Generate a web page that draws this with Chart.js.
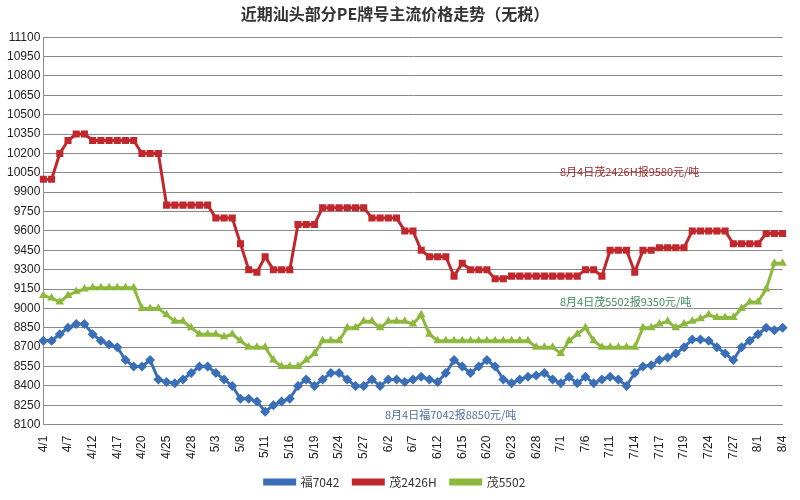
<!DOCTYPE html>
<html>
<head>
<meta charset="utf-8">
<script src="https://cdn.jsdelivr.net/npm/chart.js@4"></script>
<style>
  body { margin: 0; background: #fff; }
  #wrap { width: 800px; height: 500px; }
</style>
</head>
<body>
<div id="wrap"><canvas id="c" width="800" height="500"></canvas></div>
<script>
// tick labels shown every third point
const tickLabels = ['4/1','4/7','4/12','4/17','4/20','4/25','4/28','5/3','5/8','5/11','5/16','5/19','5/24','5/27','6/2','6/7','6/12','6/15','6/20','6/23','6/28','7/1','7/6','7/11','7/14','7/17','7/19','7/24','7/27','8/1','8/4'];

const fu7042 = [8750,8750,8800,8850,8880,8880,8800,8750,8720,8700,8600,8550,8550,8600,8450,8430,8420,8450,8500,8550,
  8550,8500,8450,8400,8300,8300,8280,8200,8250,8280,8300,8400,8450,8400,8450,8500,8500,8450,8400,8400,
  8450,8400,8450,8450,8430,8450,8470,8450,8430,8500,8600,8550,8500,8550,8600,8550,8450,8420,8450,8470,
  8480,8500,8450,8420,8470,8420,8470,8420,8450,8470,8450,8400,8500,8550,8560,8600,8620,8650,8700,8760,
  8760,8750,8700,8650,8600,8700,8750,8800,8850,8830,8850];

const mao2426H = [10000,10000,10200,10300,10350,10350,10300,10300,10300,10300,10300,10300,10200,10200,10200,9800,9800,9800,9800,9800,
  9800,9700,9700,9700,9500,9300,9280,9400,9300,9300,9300,9650,9650,9650,9780,9780,9780,9780,9780,9780,
  9700,9700,9700,9700,9600,9600,9450,9400,9400,9400,9250,9350,9300,9300,9300,9230,9230,9250,9250,9250,
  9250,9250,9250,9250,9250,9250,9300,9300,9250,9450,9450,9450,9280,9450,9450,9470,9470,9470,9470,9600,
  9600,9600,9600,9600,9500,9500,9500,9500,9580,9580,9580];

const mao5502 = [9100,9080,9050,9100,9130,9150,9160,9160,9160,9160,9160,9160,9000,9000,9000,8950,8900,8900,8850,8800,
  8800,8800,8780,8800,8750,8700,8700,8700,8600,8550,8550,8550,8600,8650,8750,8750,8750,8850,8850,8900,
  8900,8850,8900,8900,8900,8880,8950,8800,8750,8750,8750,8750,8750,8750,8750,8750,8750,8750,8750,8750,
  8700,8700,8700,8650,8750,8800,8850,8750,8700,8700,8700,8700,8700,8850,8850,8880,8900,8850,8880,8900,
  8920,8950,8930,8930,8930,9000,9050,9050,9150,9350,9350];

const categories = [];
for (let i = 0; i < fu7042.length; i++) {
  categories.push(i % 3 === 0 ? tickLabels[i / 3] : '');
}

const notes = [
  { text: '8月4日茂2426H报9580元/吨', x: 560, y: 172, color: '#a3262a' },
  { text: '8月4日茂5502报9350元/吨', x: 560, y: 302, color: '#3f8a5c' },
  { text: '8月4日福7042报8850元/吨', x: 385, y: 415, color: '#4f6f9a' }
];

const extras = {
  id: 'extras',
  afterDraw(chart) {
    const ctx = chart.ctx;
    ctx.save();
    ctx.font = '11px "Noto Sans CJK SC"';
    ctx.textBaseline = 'middle';
    notes.forEach(n => { ctx.fillStyle = n.color; ctx.fillText(n.text, n.x, n.y); });
    ctx.restore();
  }
};

function ds(label, data, color, style) {
  return {
    label, data,
    borderColor: color, backgroundColor: color,
    borderWidth: 3, pointStyle: style, pointRadius: 5,
    pointBorderWidth: 0, tension: 0
  };
}

new Chart(document.getElementById('c'), {
  type: 'line',
  data: {
    labels: categories,
    datasets: [
      ds('福7042', fu7042, '#3a6fb8', 'rectRot'),
      ds('茂2426H', mao2426H, '#c0282d', 'rect'),
      ds('茂5502', mao5502, '#8cb83c', 'triangle')
    ]
  },
  options: {
    responsive: false,
    animation: false,
    layout: { padding: { left: 4, right: 14, top: 2, bottom: 2 } },
    plugins: {
      title: {
        display: true,
        text: '近期汕头部分PE牌号主流价格走势（无税）',
        font: { size: 16, weight: 'bold', family: '"Noto Sans CJK SC"' },
        color: '#333',
        padding: { top: 2, bottom: 14 }
      },
      legend: {
        position: 'bottom',
        labels: {
          usePointStyle: false, boxWidth: 30, boxHeight: 4, padding: 14,
          font: { size: 12, family: '"Noto Sans CJK SC"' }, color: '#333'
        }
      },
      tooltip: { enabled: false }
    },
    scales: {
      y: {
        min: 8100, max: 11100,
        ticks: { stepSize: 150, callback: v => String(v), font: { size: 12, family: 'Arial, "Liberation Sans"' }, color: '#222' },
        grid: { color: '#8a8a8a', drawTicks: false },
        border: { color: '#8a8a8a' }
      },
      x: {
        offset: false,
        ticks: {
          autoSkip: false, maxRotation: 90, minRotation: 90,
          font: { size: 12, family: 'Arial, "Liberation Sans"' }, color: '#222'
        },
        grid: { display: false },
        border: { color: '#8a8a8a' }
      }
    }
  },
  plugins: [extras]
});
</script>
</body>
</html>
